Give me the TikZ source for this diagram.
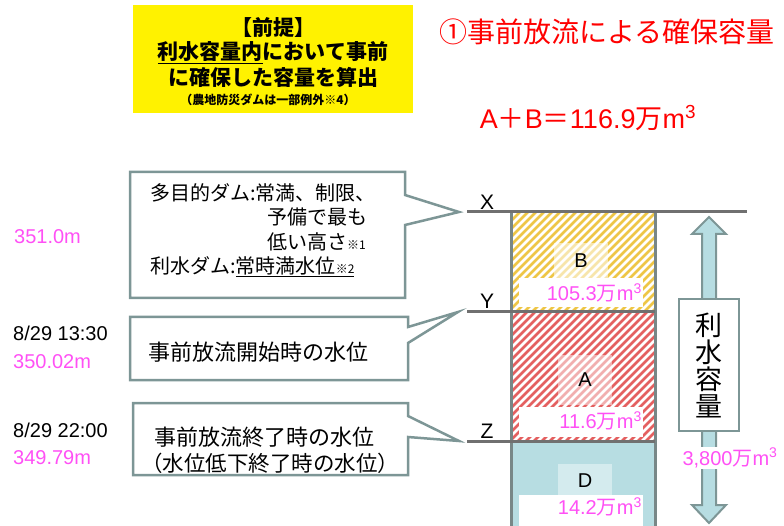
\documentclass[tikz,border=0pt]{standalone}
\usepackage{fontspec}
\setmainfont{Liberation Sans}
\newfontfamily\jp{Noto Sans CJK JP}
\newcommand\setfs[1]{\fontsize{#1}{#1}\selectfont}
\definecolor{magpink}{RGB}{255,80,245}
\definecolor{premyellow}{RGB}{255,242,0}
\definecolor{bordgray}{RGB}{125,150,150}
\definecolor{levgray}{RGB}{112,112,112}
\definecolor{colgray}{RGB}{120,135,135}
\definecolor{hatchyel}{RGB}{238,198,70}
\definecolor{hatchred}{RGB}{228,96,96}
\definecolor{waterblue}{RGB}{183,221,226}
\tikzset{
  txt/.style={inner sep=0pt, font=\setfs{20}},
  jptxt/.style={inner sep=0pt, font=\jp\setfs{20}},
  val/.style={txt, text=magpink},
  callout/.style={draw=bordgray, line width=2.5pt, fill=white, line join=miter},
  level/.style={draw=levgray, line width=3pt},
  tag/.style={fill=white, inner sep=0pt, minimum width=124pt},
  patch/.style={inner sep=0pt, minimum width=54pt, minimum height=35pt, txt},
}
\begin{document}
\begin{tikzpicture}[x=1pt, y=-1pt]
   \useasboundingbox (0,0) rectangle (784,526);
   % premise box
   \fill[premyellow] (133,5) rectangle (413,113);
   \node[jptxt, font=\jp\bfseries\setfs{21}] (pre1) at (273,28) {【前提】};
   \node[jptxt, font=\jp\bfseries\setfs{21}] (pre2) at (273,53) {\underline{利水容量内}において事前};
   \node[jptxt, font=\jp\bfseries\setfs{21}] (pre3) at (273,77) {に確保した容量を算出};
   \node[jptxt, font=\jp\bfseries\setfs{12}] (pre4) at (268,100) {（農地防災ダムは一部例外※4）};
   % title and sum
   \node[jptxt, font=\jp\setfs{28}, text=red] (title) at (607,32) {①事前放流による確保容量};
   \node[txt, font=\setfs{27}, text=red] (sum) at (588,118) {A{\jp ＋}B{\jp ＝}116.9{\jp 万}m\textsuperscript{3}};

   % column: B (yellow), A (red), D (water)
   \begin{scope}
     \clip (511,212) rectangle (655,312);
     \foreach \s in {0,8,...,288} \draw[hatchyel, line width=2.6pt] (380+\s,312) -- ++(110,-110);
   \end{scope}
   \begin{scope}
     \clip (511,312) rectangle (655,441);
     \foreach \s in {0,8,...,296} \draw[hatchred, line width=2.6pt] (366+\s,441) -- ++(140,-140);
   \end{scope}
   \fill[waterblue] (511,441) rectangle (655,526);
   \node[patch, fill=white, fill opacity=0.55, text opacity=1] (pB) at (581,261) {B};
   \node[patch, fill=white, fill opacity=0.5, text opacity=1, minimum height=50pt] (pA) at (585,380) {A};
   \node[patch, fill=white!40!waterblue] (pD) at (585,481) {D};
   \node[tag, minimum height=29pt] (tagB) at (581,292.5) {};
   \node[tag, minimum height=30pt] (tagA) at (581,422) {};
   \node[tag, minimum height=31pt] (tagD) at (581,510.5) {};
   \node[val, anchor=east] (valB) at (642,293) {105.3{\jp 万}m\textsuperscript{3}};
   \node[val, anchor=east] (valA) at (642,421) {11.6{\jp 万}m\textsuperscript{3}};
   \node[val, anchor=east] (valD) at (642,507) {14.2{\jp 万}m\textsuperscript{3}};
   \draw[colgray, line width=3pt] (511,212) -- (511,526);   % left wall
   \draw[colgray, line width=3pt] (655,212) -- (655,526);   % right wall

   % levels
   \coordinate (lvX) at (467,212);
   \coordinate (lvY) at (467,312);
   \coordinate (lvZ) at (467,441);
   \draw[level] (lvX) -- (747,212);
   \draw[level] (lvY) -- (655,312);
   \draw[level] (lvZ) -- (655,441);
   \node[txt, font=\setfs{21}] (nX) at (487,202) {X};
   \node[txt, font=\setfs{21}] (nY) at (487,301) {Y};
   \node[txt, font=\setfs{21}] (nZ) at (487,431) {Z};

   % callouts
   \coordinate (tipX) at ([xshift=-8pt]lvX);
   \coordinate (tipY) at ([xshift=-9pt]lvY);
   \coordinate (tipZ) at ([xshift=-8pt]lvZ);
   \draw[callout] (130,172) -- (405,172) -- (405,195) -- (tipX) -- (405,225) -- (405,298) -- (130,298) -- cycle;
   \draw[callout] (130,317) -- (408,317) -- (408,327) -- (tipY) -- (408,343) -- (408,380) -- (130,380) -- cycle;
   \draw[callout] (133,403) -- (408,403) -- (408,416) -- (tipZ) -- (408,437) -- (408,475) -- (133,475) -- cycle;
   \node[jptxt, anchor=west] (c1a) at (150,193) {多目的ダム:常満、制限、};
   \node[jptxt, anchor=west] (c1b) at (267,217) {予備で最も};
   \node[jptxt, anchor=west] (c1c) at (267,242) {低い高さ{\setfs{12}※1}};
   \node[jptxt, anchor=west] (c1d) at (150,267) {利水ダム:\underline{常時満水位{\setfs{12}※2}}};
   \node[jptxt, font=\jp\setfs{22}] (c2) at (258,352) {事前放流開始時の水位};
   \node[jptxt, font=\jp\setfs{22}] (c3a) at (264,437) {事前放流終了時の水位};
   \node[jptxt, font=\jp\setfs{21.5}] (c3b) at (270,463) {（水位低下終了時の水位）};

   % left side readings
   \node[val, anchor=west] (hX) at (14,237) {351.0m};
   \node[txt, anchor=west] (tY) at (13,333) {8/29 13:30};
   \node[val, anchor=west] (hY) at (13,362) {350.02m};
   \node[txt, anchor=west] (tZ) at (13,430) {8/29 22:00};
   \node[val, anchor=west] (hZ) at (13,458) {349.79m};

   % storage arrow
   \draw[bordgray, fill=waterblue, line width=2pt, line join=miter]
      (709,217) -- (726,234) -- (716,234) -- (716,505) -- (726,505) -- (709,523)
      -- (692,505) -- (702,505) -- (702,234) -- (692,234) -- cycle;
   \node[draw=bordgray, line width=2.5pt, fill=white, minimum width=60pt, minimum height=132pt,
         inner sep=0pt, align=center, font=\jp\setfs{27}] (store) at (709,365)
         {\baselineskip=28.5pt 利\\水\\容\\量};
   \node[val, fill=white, inner sep=1pt] (vol) at (730,458) {3,800{\jp 万}m\textsuperscript{3}};
\end{tikzpicture}
\end{document}
